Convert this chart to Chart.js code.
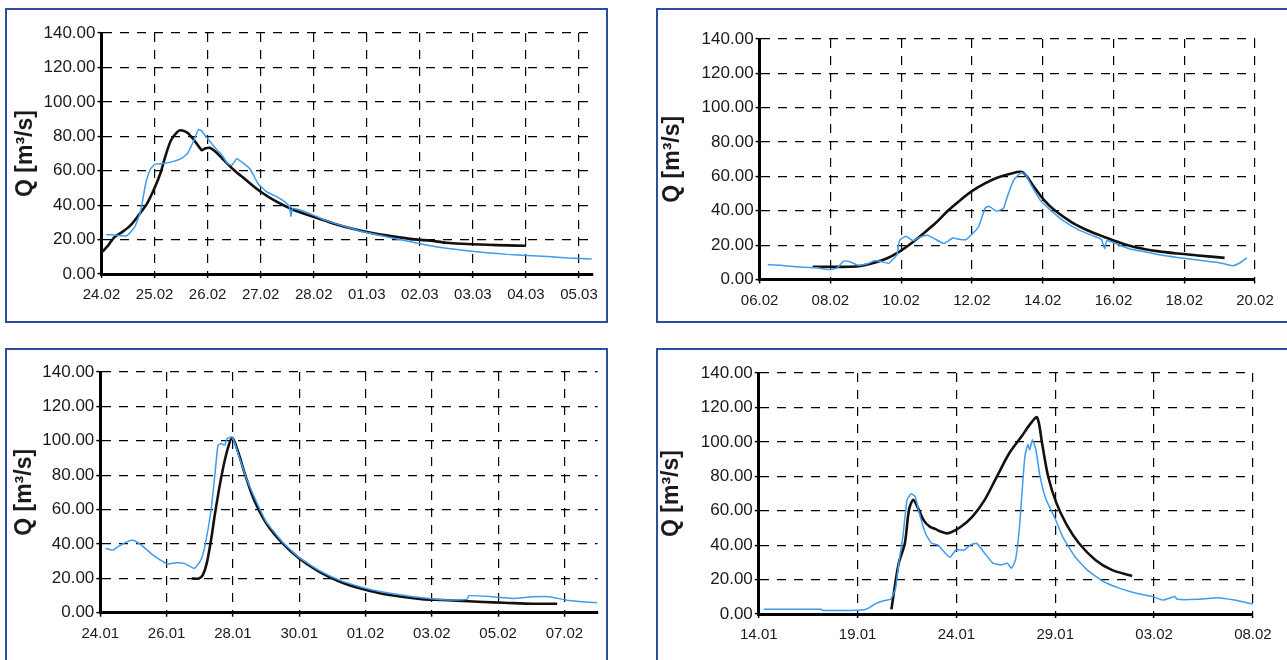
<!DOCTYPE html>
<html>
<head>
<meta charset="utf-8">
<script src="https://cdn.jsdelivr.net/npm/chart.js@4.4.1/dist/chart.umd.min.js"></script>
<style>
    html, body { margin: 0; padding: 0; background: #fff; overflow: hidden; width: 1287px; height: 660px; }
    .frame { position: absolute; border: 2px solid #2d4f9f; box-sizing: border-box; }
    .panel { position: absolute; }
</style>
</head>
<body>
<div class="frame" style="left:5px;top:8px;width:603px;height:315px"></div>
<div class="frame" style="left:656px;top:8px;width:700px;height:315px"></div>
<div class="frame" style="left:5px;top:348px;width:603px;height:400px"></div>
<div class="frame" style="left:656px;top:348px;width:700px;height:400px"></div>

<div class="panel" style="left:7px;top:10px;width:599px;height:311px"><canvas id="chart1"></canvas></div>
<div class="panel" style="left:658px;top:10px;width:629px;height:311px"><canvas id="chart2"></canvas></div>
<div class="panel" style="left:7px;top:350px;width:599px;height:310px"><canvas id="chart3"></canvas></div>
<div class="panel" style="left:658px;top:350px;width:629px;height:310px"><canvas id="chart4"></canvas></div>

<script>
// ---- data (x = days since the first tick date, Q in m3/s) ----
const yTicks = [0, 20, 40, 60, 80, 100, 120, 140];

// panel 1: 24.02 - 05.03
const p1Labels = ['24.02', '25.02', '26.02', '27.02', '28.02', '01.03', '02.03', '03.03', '04.03', '05.03'];
const p1MeasDay = [0.09, 0.47, 0.63, 0.74, 0.84, 0.93, 1.01, 1.16, 1.31, 1.5, 1.62, 1.73, 1.83, 1.89, 2.0, 2.15, 2.27, 2.38, 2.46, 2.55, 2.69, 2.8, 2.95, 3.11, 3.3, 3.45, 3.54, 3.57, 3.6, 3.76, 3.99, 4.21, 4.6, 4.98, 5.36, 5.74, 6.12, 6.5, 6.89, 7.27, 7.65, 8.03, 8.41, 8.79, 9.24];
const p1MeasQ = [23.0, 22.2, 27.5, 37, 53.6, 61.3, 63.8, 64.2, 65, 67, 70, 76.8, 84, 83, 78.7, 73, 69, 64, 63.2, 67, 64, 61, 52.6, 47.8, 44.9, 42, 39, 33.6, 38, 37, 34.2, 31.3, 27.5, 24.2, 21.7, 19.3, 16.8, 14.9, 13.5, 12.4, 11.4, 10.8, 10.1, 9.3, 8.7];
const p1SimDay = [0.02, 0.13, 0.24, 0.4, 0.55, 0.7, 0.86, 1.01, 1.12, 1.2, 1.31, 1.43, 1.5, 1.62, 1.77, 1.89, 1.96, 2.04, 2.15, 2.31, 2.5, 2.69, 3.0, 3.3, 3.6, 3.99, 4.37, 4.75, 5.13, 5.51, 5.9, 6.2, 6.5, 6.89, 7.27, 7.65, 8.0];
const p1SimQ = [13, 16.8, 21.3, 24.6, 28.4, 34.2, 41, 50.7, 59.4, 68, 77.7, 82.6, 83.5, 82, 76.8, 72, 73, 73.3, 71, 66, 60.3, 55.5, 47.8, 42, 37.5, 33.3, 29.4, 26.1, 23.6, 21.7, 20.1, 19.3, 18.2, 17.4, 17, 16.6, 16.4];

// panel 2: 06.02 - 20.02
const p2Labels = ['06.02', '08.02', '10.02', '12.02', '14.02', '16.02', '18.02', '20.02'];
const p2MeasDay = [0.23, 0.58, 1.04, 1.62, 1.97, 2.2, 2.37, 2.55, 2.78, 3.07, 3.24, 3.47, 3.65, 3.76, 3.88, 3.96, 4.14, 4.34, 4.51, 4.75, 4.98, 5.21, 5.46, 5.67, 5.84, 6.02, 6.19, 6.37, 6.48, 6.69, 6.89, 7.0, 7.18, 7.38, 7.5, 7.7, 7.93, 8.22, 8.56, 9.03, 9.49, 9.66, 9.75, 9.81, 10.07, 10.42, 10.88, 11.34, 11.81, 12.38, 12.96, 13.37, 13.54, 13.77];
const p2MeasQ = [8.7, 8.3, 7.4, 6.8, 5.8, 6.8, 10.7, 10.3, 8.3, 9.3, 10.9, 10.3, 9.3, 11.7, 14.2, 22.9, 25.2, 22.5, 24.5, 25.8, 23.3, 21, 24.1, 23.3, 23.3, 26.8, 30.7, 41.4, 42.7, 39.8, 41.4, 48.2, 57.9, 62.1, 61.7, 54, 46.2, 40.4, 34.6, 28.7, 24.9, 23.3, 18.1, 22.5, 21, 18.1, 16.1, 14.2, 12.8, 11.3, 9.9, 8, 9.3, 12.6];
const p2SimDay = [1.5, 1.97, 2.55, 2.89, 3.24, 3.59, 3.94, 4.28, 4.63, 4.98, 5.32, 5.67, 6.02, 6.37, 6.71, 7.06, 7.43, 7.75, 8.04, 8.33, 8.8, 9.26, 9.72, 10.19, 10.65, 11.23, 11.81, 12.38, 13.14];
const p2SimQ = [7.4, 7.4, 7.4, 8, 9.7, 12.2, 16.1, 21, 26.8, 33, 40, 46.2, 51.7, 55.9, 59.2, 61.4, 62.5, 54, 46.2, 40.4, 33.6, 28.7, 24.9, 21.4, 18.6, 16.5, 15.1, 14, 12.6];

// panel 3: 24.01 - 08.02
const p3Labels = ['24.01', '26.01', '28.01', '30.01', '01.02', '03.02', '05.02', '07.02'];
const p3MeasDay = [0.16, 0.37, 0.56, 0.8, 0.99, 1.24, 1.55, 1.85, 2.04, 2.29, 2.53, 2.84, 3.03, 3.15, 3.34, 3.46, 3.55, 3.65, 3.75, 3.83, 3.96, 4.05, 4.2, 4.45, 4.7, 5.0, 5.5, 6.0, 6.61, 7.23, 7.85, 8.47, 9.09, 9.7, 10.32, 11.06, 11.12, 11.8, 12.42, 13.04, 13.54, 14.03, 14.52, 14.99];
const p3MeasQ = [37.4, 36.4, 38.7, 41.2, 42.2, 39.3, 34.1, 30.2, 28.3, 29, 28.7, 25.8, 30.6, 38.3, 59.6, 80.9, 97.4, 98.4, 97.4, 101.3, 102.2, 99, 90, 76, 65, 53, 41, 32, 24.5, 18.8, 15, 12.2, 10.3, 8.7, 7.6, 7.8, 9.9, 9.3, 8.3, 9.3, 9.3, 7.4, 6.4, 5.8];
const p3SimDay = [2.76, 2.97, 3.09, 3.21, 3.34, 3.46, 3.65, 3.83, 3.98, 4.14, 4.39, 4.64, 5.01, 5.5, 6.0, 6.61, 7.23, 7.85, 8.47, 9.09, 9.7, 10.32, 10.94, 11.56, 12.18, 13.04, 13.78];
const p3SimQ = [19.9, 19.9, 21.9, 28.7, 42.2, 57.7, 79, 94.5, 101.7, 94.5, 79, 65.5, 51.9, 40.3, 31.6, 23.8, 18, 14.1, 11.2, 9.3, 7.9, 7.4, 6.8, 6.2, 5.8, 5.2, 5.2];

// panel 4: 14.01 - 08.02
const p4Labels = ['14.01', '19.01', '24.01', '29.01', '03.02', '08.02'];
const p4MeasDay = [0.25, 1.49, 3.15, 3.25, 4.6, 5.22, 5.53, 5.94, 6.36, 6.67, 6.92, 7.08, 7.29, 7.5, 7.7, 7.91, 8.12, 8.43, 8.74, 9.05, 9.36, 9.67, 9.98, 10.4, 10.71, 11.02, 11.43, 11.85, 12.26, 12.57, 12.78, 12.99, 13.19, 13.46, 13.61, 13.71, 13.84, 14.02, 14.23, 14.54, 14.95, 15.37, 15.99, 16.61, 17.44, 18.27, 19.1, 19.93, 20.44, 21.06, 21.17, 22.2, 23.24, 24.07, 25];
const p4MeasQ = [2.7, 2.7, 2.7, 2.1, 2.1, 2.3, 3.3, 6.2, 7.8, 8.5, 14.9, 29.5, 45, 66.3, 69.8, 68.3, 58.6, 46.9, 41.1, 40.1, 36.3, 33, 37.2, 37.2, 40.1, 41.1, 35.3, 29.5, 28.5, 29.5, 26.6, 31.4, 50.8, 91.5, 98.3, 95.4, 101.2, 95.4, 79.9, 66.3, 56.6, 45, 33.4, 25.6, 18.8, 14.9, 12, 10.1, 8.1, 10.1, 8.5, 8.5, 9.5, 8.1, 5.8];
const p4SimDay = [6.71, 6.88, 7.08, 7.39, 7.6, 7.81, 8.02, 8.33, 8.64, 8.95, 9.2, 9.57, 10.19, 10.81, 11.43, 12.05, 12.68, 13.3, 13.71, 14.08, 14.33, 14.64, 15.06, 15.58, 16.2, 17.03, 17.86, 18.89];
const p4SimQ = [2.7, 15.9, 29.5, 41.1, 60.5, 66.3, 62.4, 54.7, 50.8, 49.3, 47.9, 46.9, 50.4, 56.6, 66.3, 79.9, 93.5, 103.2, 110, 114.2, 99.3, 79.9, 64.4, 51.8, 41.1, 31.4, 25.6, 22.1];

// ---- styling ----
const BLUE = '#3d9bf0';
const BLACK = '#111111';
const TEXT = '#1a1a1a';

// use the narrow face for the date labels when it is installed
function hasFont(name) {
    const c = document.createElement('canvas').getContext('2d');
    c.font = '40px monospace';
    const a = c.measureText('24.02 mmm').width;
    c.font = '40px "' + name + '", monospace';
    return c.measureText('24.02 mmm').width !== a;
}
const xFont = hasFont('Liberation Sans Narrow')
    ? { family: '"Liberation Sans Narrow"', size: 18 }
    : { family: '"Liberation Sans"', size: 15 };

function toPoints(days, q) {
    return days.map((d, i) => ({ x: d, y: q[i] }));
}

function makeChart(id, p) {
    const ctx = document.getElementById(id);
    return new Chart(ctx, {
        type: 'line',
        data: {
            datasets: [{
                data: toPoints(p.measDay, p.measQ),
                borderColor: BLUE,
                borderWidth: 1.5,
                pointRadius: 0,
                tension: 0.15
            }, {
                data: toPoints(p.simDay, p.simQ),
                borderColor: BLACK,
                borderWidth: 2.6,
                pointRadius: 0,
                tension: 0.3
            }]
        },
        options: {
            responsive: true,
            maintainAspectRatio: false,
            animation: false,
            devicePixelRatio: 1,
            layout: { padding: { top: p.padTop, right: p.padRight, left: 0, bottom: 0 } },
            plugins: { legend: { display: false }, tooltip: { enabled: false } },
            scales: {
                x: {
                    type: 'linear',
                    min: 0,
                    max: p.xMax,
                    afterFit: (s) => { s.height = p.xHeight; },
                    grid: { color: '#000', lineWidth: 1.2, tickLength: 4, tickColor: '#000', tickWidth: 1.5 },
                    border: { display: true, color: '#000', width: 3, dash: [9, 8] },
                    ticks: {
                        stepSize: p.step,
                        includeBounds: false,
                        maxRotation: 0,
                        autoSkip: false,
                        padding: 8,
                        color: TEXT,
                        font: xFont,
                        callback: (v) => p.labels[Math.round(v / p.step)]
                    }
                },
                y: {
                    min: yTicks[0],
                    max: yTicks[yTicks.length - 1],
                    afterFit: (s) => { s.width = p.yWidth; },
                    afterBuildTicks: (s) => { s.ticks = yTicks.map(v => ({ value: v })); },
                    grid: { color: '#000', lineWidth: 1.2, tickLength: 4, tickColor: '#000', tickWidth: 1.5 },
                    border: { display: true, color: '#000', width: 3, dash: [9, 8] },
                    ticks: {
                        padding: 2,
                        color: TEXT,
                        font: { family: '"Liberation Sans"', size: 17 },
                        callback: (v) => v.toFixed(2)
                    },
                    title: {
                        display: true,
                        text: 'Q [m³/s]',
                        color: TEXT,
                        padding: { top: p.titlePad, bottom: 0 },
                        font: { family: '"Liberation Sans"', size: 23, weight: 'bold' }
                    }
                }
            }
        }
    });
}

makeChart('chart1', {
    labels: p1Labels, step: 1, xMax: 9.25,
    measDay: p1MeasDay, measQ: p1MeasQ, simDay: p1SimDay, simQ: p1SimQ,
    yWidth: 94.5, xHeight: 47, padTop: 23, padRight: 8.4, titlePad: 5
});
makeChart('chart2', {
    labels: p2Labels, step: 2, xMax: 14,
    measDay: p2MeasDay, measQ: p2MeasQ, simDay: p2SimDay, simQ: p2SimQ,
    yWidth: 101.6, xHeight: 41.5, padTop: 29, padRight: 32, titlePad: 1
});
makeChart('chart3', {
    labels: p3Labels, step: 2, xMax: 15,
    measDay: p3MeasDay, measQ: p3MeasQ, simDay: p3SimDay, simQ: p3SimQ,
    yWidth: 93.3, xHeight: 47.3, padTop: 22, padRight: 8.4, titlePad: 4
});
makeChart('chart4', {
    labels: p4Labels, step: 5, xMax: 25,
    measDay: p4MeasDay, measQ: p4MeasQ, simDay: p4SimDay, simQ: p4SimQ,
    yWidth: 100.8, xHeight: 46, padTop: 23, padRight: 34.1, titlePad: 0
});
</script>
</body>
</html>
